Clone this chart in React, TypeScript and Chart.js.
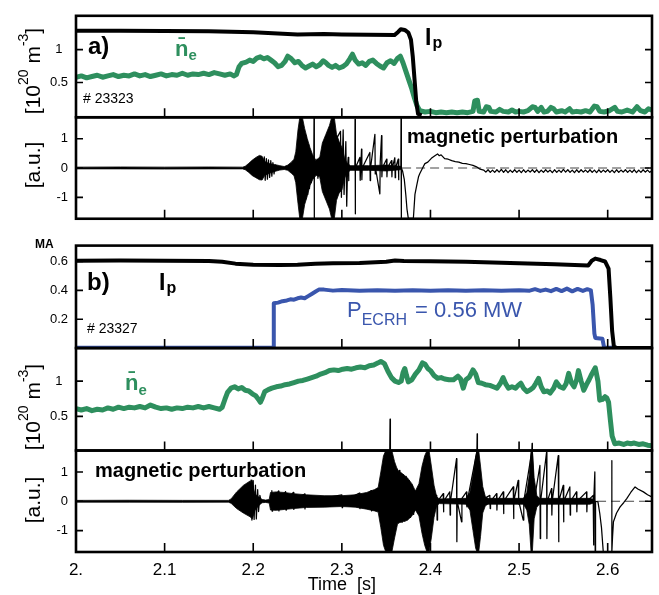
import React, { useEffect, useRef } from "react";
import { Chart, registerables } from "chart.js";

Chart.register(...registerables);

// ---------- tick values & labels ----------
const xTicks = [2.0, 2.1, 2.2, 2.3, 2.4, 2.5, 2.6];
const xTickLabels = ["2.", "2.1", "2.2", "2.3", "2.4", "2.5", "2.6"];
const p1Ticks = [0.5, 1];
const p2Ticks = [-1, 0, 1];
const p3Ticks = [0.2, 0.4, 0.6];
const p4Ticks = [0.5, 1];
const p5Ticks = [-1, 0, 1];

// ---------- shot 23323 ----------
const neA: [number, number][] = [
  [2.000,0.58],[2.006,0.60],[2.012,0.57],[2.018,0.59],[2.024,0.61],[2.030,0.58],[2.036,0.60],[2.042,0.62],
  [2.048,0.59],[2.054,0.61],[2.060,0.60],[2.066,0.63],[2.072,0.60],[2.078,0.62],[2.084,0.59],[2.090,0.61],
  [2.096,0.63],[2.102,0.60],[2.108,0.62],[2.114,0.61],[2.120,0.64],[2.126,0.61],[2.132,0.63],[2.138,0.62],
  [2.144,0.64],[2.150,0.62],[2.156,0.65],[2.162,0.63],[2.168,0.61],[2.174,0.63],[2.178,0.60],[2.181,0.62],
  [2.184,0.74],[2.187,0.79],[2.192,0.81],[2.196,0.84],[2.200,0.82],[2.204,0.87],[2.208,0.89],[2.212,0.86],
  [2.216,0.88],[2.220,0.84],[2.224,0.80],[2.228,0.74],[2.232,0.76],[2.236,0.82],[2.239,0.90],[2.243,0.86],
  [2.247,0.80],[2.251,0.82],[2.255,0.76],[2.259,0.72],[2.263,0.75],[2.267,0.78],[2.271,0.74],[2.275,0.77],
  [2.279,0.83],[2.282,0.80],[2.285,0.76],[2.289,0.73],[2.293,0.76],[2.297,0.72],[2.301,0.74],[2.305,0.78],
  [2.309,0.86],[2.312,0.93],[2.315,0.84],[2.319,0.78],[2.323,0.80],[2.327,0.76],[2.331,0.82],[2.335,0.84],
  [2.339,0.79],[2.343,0.75],[2.347,0.72],[2.351,0.80],[2.355,0.83],[2.359,0.79],[2.363,0.87],[2.366,0.90],
  [2.369,0.80],[2.372,0.68],[2.376,0.52],[2.379,0.40],[2.382,0.26],[2.385,0.14],[2.388,0.07],[2.394,0.05],
  [2.400,0.06],[2.406,0.04],[2.412,0.05],[2.418,0.04],[2.424,0.05],[2.430,0.04],[2.436,0.05],[2.442,0.04],
  [2.448,0.06],[2.450,0.22],[2.453,0.23],[2.455,0.06],[2.460,0.05],[2.463,0.13],[2.466,0.12],[2.468,0.06],
  [2.474,0.05],[2.478,0.09],[2.482,0.06],[2.488,0.05],[2.492,0.08],[2.496,0.05],[2.500,0.06],[2.505,0.05],
  [2.510,0.07],[2.515,0.13],[2.518,0.12],[2.521,0.06],[2.525,0.12],[2.528,0.05],[2.532,0.06],[2.536,0.12],
  [2.539,0.10],[2.542,0.05],[2.548,0.07],[2.552,0.05],[2.557,0.10],[2.560,0.05],[2.565,0.06],[2.570,0.05],
  [2.575,0.07],[2.580,0.05],[2.585,0.14],[2.588,0.13],[2.591,0.06],[2.596,0.05],[2.602,0.07],[2.608,0.12],
  [2.611,0.06],[2.616,0.05],[2.622,0.08],[2.628,0.05],[2.633,0.13],[2.637,0.07],[2.642,0.05],[2.646,0.10],
  [2.650,0.08]
];
const ipA: [number, number][] = [
  [2.000,1.288],[2.050,1.287],[2.100,1.283],[2.150,1.278],[2.200,1.265],[2.250,1.232],[2.280,1.236],
  [2.300,1.230],[2.330,1.226],[2.3595,1.222],[2.3635,1.27],[2.3665,1.31],[2.371,1.30],[2.375,1.26],
  [2.378,1.15],[2.380,0.90],[2.382,0.55],[2.384,0.20],[2.386,0.02],[2.390,0.0]
];
// mirnov signal: dense oscillation envelope [t, upper, lower]
const magAEnv: [number, number, number][] = [
  [2.000,0.03,-0.03],[2.050,0.035,-0.03],[2.100,0.03,-0.035],[2.150,0.035,-0.03],[2.188,0.03,-0.03],
  [2.191,0.06,-0.06],[2.195,0.16,-0.15],[2.199,0.27,-0.26],[2.203,0.36,-0.33],[2.207,0.43,-0.40],
  [2.210,0.40,-0.41],[2.213,0.22,-0.25],[2.218,0.15,-0.18],[2.224,0.12,-0.12],[2.230,0.08,-0.07],
  [2.235,0.05,-0.05],[2.239,0.10,-0.08],[2.243,0.20,-0.18],[2.246,0.30,-0.26],[2.248,0.55,-0.50],
  [2.2505,1.30,-1.20],[2.2525,1.72,-1.72],[2.2555,1.72,-1.72],[2.258,1.35,-1.25],[2.261,1.00,-0.95],
  [2.264,0.70,-0.60],[2.267,0.45,-0.40],[2.271,0.25,-0.25],[2.275,0.35,-0.30],[2.278,0.85,-0.80],
  [2.282,1.15,-1.10],[2.286,1.45,-1.40],[2.2885,1.72,-1.72],[2.2915,1.72,-1.72],[2.294,1.15,-1.10],
  [2.297,0.90,-0.85],[2.300,0.70,-0.75],[2.303,0.35,-0.35],[2.306,0.15,-0.15],[2.310,0.08,-0.08],
  [2.330,0.08,-0.08],[2.350,0.10,-0.10],[2.366,0.06,-0.06],[2.368,0.03,-0.03]
];
// mirnov signal: individual spikes, crash and decay
const magA: [number, number][] = [
  [2.190,0],[2.2115,0],[2.2125,0.38],[2.2135,-0.42],[2.2148,0.32],[2.216,-0.38],[2.2172,0.28],[2.2185,-0.32],
  [2.2198,0.25],[2.221,-0.28],[2.2222,0.18],[2.2235,-0.2],[2.2248,0.1],[2.226,0],[2.258,0],
  [2.2585,1.1],[2.2595,-1.05],[2.2605,0.95],[2.2615,-0.9],[2.2625,0.8],[2.2635,-0.7],[2.2645,0.6],
  [2.2655,-0.5],[2.2668,0.3],[2.2683,0.1],[2.2686,1.72],[2.2688,-1.72],[2.2691,0],[2.272,0.3],
  [2.273,-0.35],[2.2745,0.35],[2.2755,0],[2.2985,1.25],[2.2995,-1.0],[2.3015,1.3],[2.3025,-0.9],
  [2.3045,0.9],[2.3055,-1.3],[2.3065,0.1],[2.3072,0.36],[2.3076,-0.43],[2.308,0],[2.3147,0],
  [2.3149,1.66],[2.3151,-1.56],[2.3154,0],[2.3203,0.36],[2.3207,-0.42],[2.3222,0.64],[2.3226,-0.4],
  [2.323,0],[2.3316,0.53],[2.332,-0.43],[2.3324,0],[2.3373,1.15],[2.3377,-0.2],[2.338,0],
  [2.3429,-0.88],[2.3433,0.2],[2.3448,1.1],[2.3452,-0.3],[2.3456,0],[2.3505,0.3],[2.3509,-0.3],
  [2.3513,0],[2.3561,0.25],[2.3565,-0.3],[2.3569,0],[2.3598,0.35],[2.3602,-0.33],[2.3606,0],
  [2.3636,0.3],[2.364,-0.4],[2.3644,0.05],[2.3666,0.05],[2.3668,1.72],[2.367,-1.72],[2.3673,0],
  [2.3685,-0.1],[2.3705,-0.4],[2.3722,-0.92],[2.3735,-1.4],[2.375,-1.72],[2.3807,-1.72],[2.3825,-0.9],
  [2.3845,-0.59],[2.3865,-0.3],[2.388,-0.19],[2.392,0.05],[2.3937,0.15],[2.397,0.2],[2.401,0.33],
  [2.405,0.42],[2.408,0.48],[2.410,0.42],[2.412,0.45],[2.416,0.32],[2.420,0.30],[2.424,0.25],
  [2.428,0.22],[2.432,0.20],[2.436,0.16],[2.440,0.15],[2.444,0.12],[2.448,0.09],[2.452,0.04],
  [2.456,-0.04],[2.4600,-0.07],[2.4625,-0.14],[2.4650,-0.06],[2.4675,-0.15],[2.4700,-0.07],
  [2.4725,-0.15],[2.4750,-0.06],[2.4775,-0.14],[2.4800,-0.05],[2.4825,-0.15],[2.4850,-0.06],
  [2.4875,-0.16],[2.4900,-0.07],[2.4925,-0.15],[2.4950,-0.06],[2.4975,-0.15],[2.5000,-0.07],
  [2.5025,-0.16],[2.5050,-0.06],[2.5075,-0.15],[2.5100,-0.07],[2.5125,-0.14],[2.5150,-0.06],
  [2.5175,-0.15],[2.5200,-0.06],[2.5225,-0.16],[2.5250,-0.07],[2.5275,-0.15],[2.5300,-0.06],
  [2.5325,-0.14],[2.5350,-0.07],[2.5375,-0.16],[2.5400,-0.06],[2.5425,-0.15],[2.5450,-0.07],
  [2.5475,-0.15],[2.5500,-0.05],[2.5525,-0.14],[2.5550,-0.06],[2.5575,-0.15],[2.5600,-0.07],
  [2.5625,-0.16],[2.5650,-0.06],[2.5675,-0.15],[2.5700,-0.06],[2.5725,-0.14],[2.5750,-0.07],
  [2.5775,-0.15],[2.5800,-0.06],[2.5825,-0.15],[2.5850,-0.07],[2.5875,-0.16],[2.5900,-0.06],
  [2.5925,-0.15],[2.5950,-0.07],[2.5975,-0.14],[2.6000,-0.06],[2.6025,-0.15],[2.6050,-0.07],
  [2.6075,-0.16],[2.6100,-0.06],[2.6125,-0.15],[2.6150,-0.07],[2.6175,-0.14],[2.6200,-0.06],
  [2.6225,-0.15],[2.6250,-0.07],[2.6275,-0.15],[2.6300,-0.06],[2.6325,-0.16],[2.6350,-0.07],
  [2.6375,-0.15],[2.6400,-0.06],[2.6425,-0.14],[2.6450,-0.07],[2.6475,-0.15],[2.6500,-0.08]
];
const zeroA: [number, number][] = [[2.368,0],[2.65,0]];

// ---------- shot 23327 ----------
const ipB: [number, number][] = [
  [2.000,0.605],[2.050,0.606],[2.100,0.605],[2.150,0.604],[2.165,0.598],[2.180,0.585],[2.200,0.578],
  [2.230,0.576],[2.250,0.577],[2.270,0.585],[2.290,0.587],[2.320,0.590],[2.350,0.598],[2.360,0.607],
  [2.370,0.603],[2.400,0.602],[2.440,0.598],[2.480,0.592],[2.510,0.586],[2.540,0.580],[2.578,0.572],
  [2.582,0.605],[2.586,0.620],[2.592,0.610],[2.597,0.600],[2.601,0.550],[2.603,0.350],[2.605,0.120],
  [2.607,0.010],[2.610,0.0],[2.650,0.0]
];
const ecrhB: [number, number][] = [
  [2.000,0.003],[2.2225,0.003],[2.2232,0.31],[2.228,0.315],[2.233,0.325],[2.238,0.33],[2.242,0.338],
  [2.246,0.335],[2.250,0.345],[2.254,0.35],[2.258,0.345],[2.262,0.36],[2.266,0.375],[2.270,0.39],
  [2.274,0.405],[2.280,0.405],[2.290,0.398],[2.300,0.402],[2.320,0.398],[2.340,0.401],[2.360,0.397],
  [2.380,0.401],[2.400,0.398],[2.420,0.401],[2.440,0.397],[2.460,0.400],[2.480,0.398],[2.500,0.401],
  [2.512,0.398],[2.518,0.408],[2.524,0.396],[2.530,0.405],[2.536,0.394],[2.542,0.410],[2.548,0.395],
  [2.554,0.412],[2.560,0.393],[2.566,0.410],[2.572,0.396],[2.577,0.408],[2.581,0.40],[2.583,0.30],
  [2.585,0.10],[2.586,0.07],[2.594,0.065],[2.596,0.003],[2.610,0.003]
];
const neB: [number, number][] = [
  [2.000,0.61],[2.006,0.59],[2.012,0.61],[2.018,0.58],[2.024,0.60],[2.030,0.59],[2.036,0.62],[2.042,0.60],
  [2.048,0.63],[2.054,0.61],[2.060,0.63],[2.066,0.62],[2.072,0.64],[2.078,0.62],[2.084,0.66],[2.090,0.63],
  [2.096,0.61],[2.102,0.62],[2.108,0.60],[2.114,0.62],[2.120,0.61],[2.126,0.63],[2.132,0.62],[2.138,0.64],
  [2.144,0.62],[2.150,0.64],[2.156,0.62],[2.162,0.60],[2.165,0.63],[2.168,0.74],[2.171,0.84],[2.175,0.90],
  [2.179,0.92],[2.183,0.89],[2.187,0.91],[2.191,0.87],[2.195,0.86],[2.199,0.82],[2.203,0.79],[2.206,0.74],
  [2.208,0.70],[2.210,0.75],[2.213,0.85],[2.217,0.88],[2.221,0.90],[2.226,0.92],[2.231,0.93],[2.236,0.95],
  [2.241,0.96],[2.246,0.98],[2.251,1.00],[2.256,1.01],[2.261,1.03],[2.266,1.05],[2.271,1.07],[2.276,1.10],
  [2.281,1.12],[2.286,1.15],[2.291,1.16],[2.296,1.15],[2.301,1.17],[2.306,1.18],[2.311,1.17],[2.316,1.19],
  [2.321,1.20],[2.326,1.19],[2.331,1.22],[2.336,1.23],[2.341,1.26],[2.344,1.28],[2.348,1.25],[2.352,1.14],
  [2.356,1.05],[2.360,1.00],[2.364,0.98],[2.367,1.00],[2.369,1.12],[2.371,1.18],[2.373,1.08],[2.375,0.99],
  [2.379,1.02],[2.383,1.10],[2.387,1.16],[2.391,1.26],[2.394,1.24],[2.397,1.18],[2.400,1.15],[2.404,1.08],
  [2.408,1.04],[2.412,1.05],[2.416,1.03],[2.421,1.02],[2.426,1.02],[2.431,1.07],[2.434,1.03],[2.437,0.90],
  [2.440,1.02],[2.444,1.06],[2.448,1.16],[2.451,1.10],[2.454,0.98],[2.458,0.97],[2.462,0.95],[2.467,0.94],
  [2.471,0.92],[2.475,0.90],[2.479,0.97],[2.482,1.05],[2.485,0.96],[2.488,0.90],[2.492,0.92],[2.496,0.90],
  [2.499,0.94],[2.502,0.97],[2.505,0.90],[2.509,0.85],[2.513,0.88],[2.516,0.91],[2.519,0.97],[2.522,1.04],
  [2.525,0.92],[2.528,0.85],[2.532,0.86],[2.535,0.83],[2.539,0.90],[2.542,0.99],[2.546,0.92],[2.550,0.90],
  [2.553,0.96],[2.556,1.11],[2.559,0.98],[2.562,0.92],[2.565,1.02],[2.567,1.15],[2.570,1.00],[2.573,0.87],
  [2.576,0.95],[2.579,1.02],[2.582,1.10],[2.586,1.19],[2.589,1.00],[2.591,0.73],[2.594,0.74],[2.597,0.78],
  [2.599,0.76],[2.601,0.70],[2.603,0.45],[2.605,0.22],[2.608,0.11],[2.613,0.12],[2.618,0.10],[2.622,0.12],
  [2.626,0.11],[2.630,0.12],[2.635,0.10],[2.640,0.11],[2.645,0.09],[2.650,0.08]
];
const magBEnv: [number, number, number][] = [
  [2.000,0.03,-0.03],[2.060,0.035,-0.03],[2.120,0.03,-0.035],[2.172,0.03,-0.03],[2.175,0.08,-0.07],
  [2.1813,0.32,-0.25],[2.1888,0.54,-0.40],[2.1964,0.69,-0.53],[2.199,0.55,-0.60],[2.202,0.25,-0.30],
  [2.206,0.15,-0.15],[2.210,0.06,-0.05],[2.214,0.04,-0.04],[2.218,0.06,-0.06],[2.2195,0.30,-0.30],
  [2.226,0.32,-0.31],[2.235,0.30,-0.28],[2.245,0.26,-0.25],[2.260,0.22,-0.21],[2.280,0.19,-0.20],
  [2.300,0.19,-0.18],[2.315,0.22,-0.20],[2.328,0.30,-0.27],[2.337,0.40,-0.33],[2.341,0.47,-0.37],
  [2.344,1.00,-0.90],[2.347,1.55,-1.50],[2.3495,1.72,-1.72],[2.3565,1.72,-1.72],[2.3595,1.35,-1.25],
  [2.363,1.05,-0.75],[2.368,0.95,-0.70],[2.374,0.80,-0.65],[2.379,0.60,-0.50],[2.383,0.35,-0.30],
  [2.387,0.60,-0.50],[2.3905,1.20,-1.10],[2.3935,1.55,-1.50],[2.396,1.72,-1.72],[2.3985,1.72,-1.72],
  [2.401,1.20,-1.25],[2.404,0.55,-0.55],[2.407,0.15,-0.15],[2.410,0.08,-0.08],[2.440,0.10,-0.10],
  [2.4445,0.30,-0.30],[2.448,0.90,-1.00],[2.451,1.50,-1.60],[2.4525,1.72,-1.72],[2.4545,1.72,-1.72],
  [2.4565,1.20,-1.20],[2.459,0.50,-0.40],[2.462,0.15,-0.15],[2.465,0.10,-0.10],[2.505,0.10,-0.10],
  [2.5087,0.30,-0.30],[2.5115,0.90,-0.80],[2.5135,1.72,-1.72],[2.5150,1.72,-1.72],[2.517,0.80,-0.60],
  [2.520,0.20,-0.20],[2.523,0.10,-0.10],[2.580,0.10,-0.10],[2.585,0.05,-0.05]
];
const magB: [number, number][] = [
  [2.196,0],[2.1975,0.72],[2.1985,-0.64],[2.200,0.70],[2.201,-0.62],[2.2025,0.55],[2.2035,-0.60],
  [2.205,0.40],[2.206,-0.35],[2.2075,0.20],[2.209,0],[2.2205,0],[2.221,0.36],[2.2214,-0.34],[2.2218,0],
  [2.2285,0.35],[2.229,-0.33],[2.2294,0],[2.2365,0.33],[2.237,-0.30],[2.2374,0],[2.2452,0.30],
  [2.2456,-0.28],[2.246,0],[2.258,0.25],[2.2584,-0.26],[2.2588,0],[2.300,0.22],[2.3004,-0.22],
  [2.3008,0],[2.320,0.28],[2.3204,-0.25],[2.3208,0],[2.333,0.36],[2.3334,-0.33],[2.3338,0],
  [2.350,0],[2.354,1.5],[2.3544,2.8],[2.3548,1.5],[2.358,0],[2.3625,1.1],[2.3635,-0.75],[2.3645,1.05],
  [2.3655,-0.70],[2.367,0.95],[2.368,-0.72],[2.3695,0.90],[2.371,-0.68],[2.3725,0.85],[2.374,-0.60],
  [2.376,0.70],[2.3775,-0.55],[2.3795,0.55],[2.381,-0.45],[2.383,0.30],[2.385,0],[2.4071,0.20],
  [2.4075,-0.64],[2.408,0],[2.4144,0.26],[2.4148,-0.36],[2.415,0],[2.4218,0.32],[2.4222,-0.47],
  [2.4226,0],[2.4294,1.45],[2.4298,-1.38],[2.4302,0],[2.4351,-0.70],[2.4355,0.10],[2.4407,0.32],
  [2.4411,-0.19],[2.4415,0],[2.4524,1.7],[2.4527,2.3],[2.453,1.7],[2.455,0],[2.467,0.20],[2.4674,-0.25],
  [2.4678,0],[2.4746,0.26],[2.475,-0.30],[2.4754,0],[2.4821,0.32],[2.4825,-0.42],[2.4829,0],
  [2.4934,0.49],[2.4938,-0.59],[2.4942,0],[2.499,0.71],[2.4994,-0.10],[2.4998,0],[2.5047,-0.64],
  [2.5051,0.10],[2.5055,0],[2.5144,1.7],[2.5147,1.97],[2.515,1.7],[2.517,0],[2.5235,1.22],
  [2.5239,-1.27],[2.5243,0],[2.531,1.67],[2.5314,-1.27],[2.5318,0],[2.5366,0.43],[2.537,-0.47],
  [2.5374,0],[2.5442,1.56],[2.5446,-1.38],[2.545,0],[2.5498,0.54],[2.5502,-0.70],[2.5506,0],
  [2.5573,0.49],[2.5577,-0.47],[2.5581,0],[2.5648,0.32],[2.5652,-0.36],[2.5656,0],[2.5761,0.32],
  [2.5765,-0.36],[2.5769,0],[2.5836,0.20],[2.584,-1.49],[2.5844,0],[2.5855,1.0],[2.5859,-1.72],
  [2.5863,0],[2.589,-0.02],[2.591,-0.40],[2.593,-0.90],[2.595,-1.72],[2.6044,-1.72],[2.6046,1.39],
  [2.6048,-1.72],[2.6055,-1.20],[2.6065,-0.70],[2.610,-0.40],[2.614,-0.19],[2.618,-0.05],[2.6215,0.09],
  [2.626,0.30],[2.6309,0.49],[2.634,0.42],[2.6403,0.32],[2.645,0.22],[2.6497,0.15]
];
const zeroB: [number, number][] = [[2.588,0],[2.65,0]];

// ---------- styling ----------
const FONT = "'Liberation Sans', Arial, Helvetica, sans-serif";
const GREEN = "#2e8f5e";
const BLUE = "#3a56ad";

const pts = (a: [number, number][]) => a.map(([x, y]) => ({ x, y }));

function lineDs(data: [number, number][], yAxisID: string, color: string, width: number, extra: any = {}) {
  return {
    type: "line", data: pts(data), xAxisID: "x", yAxisID, borderColor: color, borderWidth: width,
    pointRadius: 0, tension: 0, fill: false, borderJoinStyle: "round", ...extra,
  };
}

function yScale(min: number, max: number, ticks: number[], weight: number, stackWeight: number, crossAlign = "near") {
  return {
    type: "linear", position: "left", stack: "panels", stackWeight, weight, min, max,
    grid: { display: false, drawTicks: false }, border: { display: false },
    ticks: { font: { family: FONT, size: 13 }, color: "#000", padding: 8, crossAlign, callback: (v: number) => String(v) },
    afterBuildTicks: (s: any) => { s.ticks = ticks.map((v) => ({ value: v })); },
    afterFit: (s: any) => { s.width = 76; },
  };
}

function put(ctx: CanvasRenderingContext2D, s: string, x: number, y: number, size: number, bold: boolean, color: string, align: CanvasTextAlign = "left") {
  ctx.font = `${bold ? "bold " : ""}${size}px ${FONT}`;
  ctx.fillStyle = color;
  ctx.textAlign = align;
  ctx.textBaseline = "alphabetic";
  ctx.fillText(s, x, y);
  return ctx.measureText(s).width;
}

function vTitle(ctx: CanvasRenderingContext2D, parts: [string, number, number][], bx: number, cy: number) {
  ctx.save();
  ctx.translate(bx, cy);
  ctx.rotate(-Math.PI / 2);
  let total = 0;
  for (const [t, size] of parts) { ctx.font = `${size}px ${FONT}`; total += ctx.measureText(t).width; }
  let x = -total / 2;
  ctx.fillStyle = "#000";
  ctx.textAlign = "left";
  ctx.textBaseline = "alphabetic";
  for (const [t, size, dy] of parts) {
    ctx.font = `${size}px ${FONT}`;
    ctx.fillText(t, x, dy);
    x += ctx.measureText(t).width;
  }
  ctx.restore();
}

const densTitle: [string, number, number][] = [["[10", 21, 0], ["20", 14, -12], [" m", 21, 0], ["-3", 14, -12], ["]", 21, 0]];
const auTitle: [string, number, number][] = [["[a.u.]", 21, 0]];

const framePlugin = {
  id: "frames",
  afterDraw(chart: any) {
    const ctx: CanvasRenderingContext2D = chart.ctx;
    const { left, right } = chart.chartArea;
    const xs = chart.scales.x;
    ctx.save();
    ctx.strokeStyle = "#000";
    for (const id of ["y1", "y2", "y3", "y4", "y5"]) {
      const s = chart.scales[id];
      ctx.lineWidth = 1.6;
      ctx.beginPath();
      for (const t of s.ticks) {
        const y = s.getPixelForValue(t.value);
        ctx.moveTo(left, y); ctx.lineTo(left + 7, y);
        ctx.moveTo(right, y); ctx.lineTo(right - 7, y);
      }
      for (const t of xs.ticks) {
        const x = xs.getPixelForValue(t.value);
        if (x > left + 2 && x < right - 2) { ctx.moveTo(x, s.bottom); ctx.lineTo(x, s.bottom - 9); }
      }
      ctx.stroke();
      ctx.lineWidth = 2.6;
      ctx.strokeRect(left, s.top, right - left, s.bottom - s.top);
    }

    // panel a
    put(ctx, "a)", 88, 54, 24, true, "#000");
    let w = put(ctx, "n\u0304", 175, 56, 22, true, GREEN);
    put(ctx, "e", 175 + w, 60, 15, true, GREEN);
    w = put(ctx, "I", 425, 45, 23, true, "#000");
    put(ctx, "p", 425 + w + 1, 48, 16, true, "#000");
    put(ctx, "# 23323", 83, 103, 14, false, "#000");
    put(ctx, "magnetic perturbation", 407, 143, 20, true, "#000");

    // panel b
    put(ctx, "MA", 35, 248, 12, true, "#000");
    put(ctx, "b)", 87, 290, 24, true, "#000");
    w = put(ctx, "I", 159, 290, 23, true, "#000");
    put(ctx, "p", 159 + w + 1, 293, 16, true, "#000");
    put(ctx, "# 23327", 87, 333, 14, false, "#000");
    w = put(ctx, "P", 347, 317, 22, false, BLUE);
    const w2 = put(ctx, "ECRH", 347 + w, 325, 16, false, BLUE);
    put(ctx, " = 0.56 MW", 347 + w + w2 + 2, 317, 22, false, BLUE);
    w = put(ctx, "n\u0304", 125, 390, 22, true, GREEN);
    put(ctx, "e", 125 + w, 395, 15, true, GREEN);
    put(ctx, "magnetic perturbation", 95, 477, 20, true, "#000");

    // axis titles
    vTitle(ctx, densTitle, 40, 71);
    vTitle(ctx, auTitle, 40, 165);
    vTitle(ctx, densTitle, 40, 407);
    vTitle(ctx, auTitle, 40, 500);
    put(ctx, "Time  [s]", xs.getPixelForValue(2.3), 590, 18, false, "#000", "center");
    ctx.restore();
  },
};

export default function App() {
  const ref = useRef<HTMLCanvasElement | null>(null);
  useEffect(() => {
    if (!ref.current) return;
    const bandA = [
      lineDs(magAEnv.map(([t, hi]) => [t, hi] as [number, number]), "y2", "#000", 0.8, { fill: "+1", backgroundColor: "#000" }),
      lineDs(magAEnv.map(([t, , lo]) => [t, lo] as [number, number]), "y2", "#000", 0.8),
    ];
    const bandB = [
      lineDs(magBEnv.map(([t, hi]) => [t, hi] as [number, number]), "y5", "#000", 0.8, { fill: "+1", backgroundColor: "#000" }),
      lineDs(magBEnv.map(([t, , lo]) => [t, lo] as [number, number]), "y5", "#000", 0.8),
    ];
    const chart = new Chart(ref.current, {
      type: "line",
      data: {
        datasets: [
          lineDs(magA, "y2", "#000", 1.25),
          lineDs(magB, "y5", "#000", 1.25, { clip: false }),
          ...bandA,
          ...bandB,
          lineDs(zeroA, "y2", "#444", 1, { borderDash: [9, 5] }),
          lineDs(zeroB, "y5", "#444", 1, { borderDash: [9, 5] }),
          lineDs(ipB, "y3", "#000", 4),
          lineDs(ecrhB, "y3", BLUE, 4),
          lineDs(ipA, "y1", "#000", 4),
          lineDs(neA, "y1", GREEN, 5),
          lineDs(neB, "y4", GREEN, 5),
        ] as any,
      },
      options: {
        animation: false,
        responsive: false,
        devicePixelRatio: 1,
        events: [],
        layout: { padding: { top: 13, right: 7, left: 0, bottom: 0 } },
        plugins: { legend: { display: false }, tooltip: { enabled: false } },
        scales: {
          x: {
            type: "linear", position: "bottom", min: 2.0, max: 2.65,
            grid: { display: false, drawTicks: false }, border: { display: false },
            ticks: {
              font: { family: FONT, size: 17 }, color: "#000", padding: 8, maxRotation: 0, autoSkip: false,
              callback: (_v: any, i: number) => xTickLabels[i],
            },
            afterBuildTicks: (s: any) => { s.ticks = xTicks.map((v) => ({ value: v })); },
            afterFit: (s: any) => { s.height = 43; },
          },
          y1: yScale(-0.03, 1.515, p1Ticks, 6, 102, "center"),
          y2: yScale(-1.73, 1.73, p2Ticks, 5, 102),
          gap: {
            type: "linear", position: "left", stack: "panels", stackWeight: 27, weight: 4, min: 0, max: 1,
            grid: { display: false, drawTicks: false }, border: { display: false }, ticks: { display: false },
            afterFit: (s: any) => { s.width = 76; },
          },
          y3: yScale(0, 0.71, p3Ticks, 3, 103),
          y4: yScale(0.014, 1.47, p4Ticks, 2, 103, "center"),
          y5: yScale(-1.73, 1.73, p5Ticks, 1, 102),
        } as any,
      },
      plugins: [framePlugin],
    } as any);
    return () => chart.destroy();
  }, []);
  return (
    <div style={{ position: "fixed", left: 0, top: 0, width: 659, height: 595, background: "#fff" }}>
      <canvas ref={ref} width={659} height={595} style={{ display: "block" }} />
    </div>
  );
}
